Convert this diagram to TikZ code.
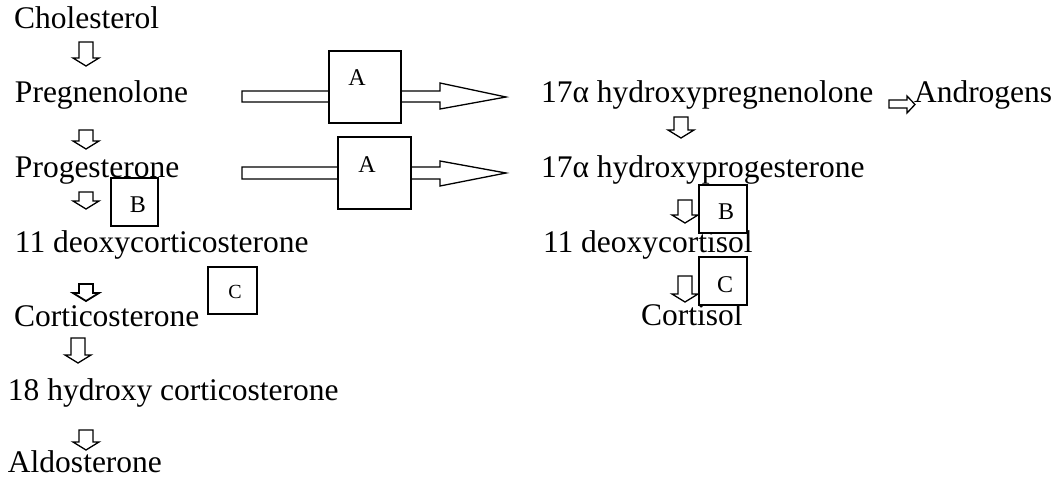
\documentclass[tikz,border=0pt]{standalone}
\usepackage{fontspec}
\setmainfont{Liberation Serif}
\begin{document}
\begin{tikzpicture}[x=1pt,y=-1pt,
  lbl/.style={anchor=base west,inner sep=0pt,outer sep=0pt,font=\fontsize{31.5}{36}\selectfont},
  blk/.style={draw=black,line width=1.3pt,fill=white,line join=miter},
  enzbox/.style={draw=black,line width=1.5pt,fill=white},
  enz/.style={inner sep=0pt,font=\fontsize{24}{28}\selectfont},
  enzs/.style={inner sep=0pt,font=\fontsize{20}{24}\selectfont}]
\useasboundingbox (0,0) rectangle (1061,479);
\newcommand{\DownBlk}[4][]{%
  \draw[blk,#1] ({#2-7},#3) -- ({#2+7},#3) -- ({#2+7},{#4-8}) -- ({#2+13},{#4-8}) -- (#2,#4) -- ({#2-13},{#4-8}) -- ({#2-7},{#4-8}) -- cycle;}
% left column texts
\node[lbl] (chol) at (14,28) {Cholesterol};
\node[lbl] (preg) at (15,102) {Pregnenolone};
\node[lbl] (prog) at (15,177) {Progesterone};
\node[lbl] (doc) at (15,252) {11 deoxycorticosterone};
\node[lbl] (cort) at (14,326) {Corticosterone};
\node[lbl] (ohc) at (8,400) {18 hydroxy corticosterone};
\node[lbl] (aldo) at (8,472) {Aldosterone};
% right column texts
\node[lbl] (ohpreg) at (541,102) {17α hydroxypregnenolone};
\node[lbl] (andro) at (914,102) {Androgens};
\node[lbl] (ohprog) at (541,177) {17α hydroxyprogesterone};
\node[lbl] (dcl) at (543,252) {11 deoxycortisol};
\node[lbl] (cortisol) at (641,325) {Cortisol};
% down block arrows
\DownBlk{86}{42}{66}
\DownBlk{86}{130}{149}
\DownBlk{86}{192}{209}
\DownBlk[line width=1.8pt]{86}{284}{301}
\DownBlk{78}{338}{363}
\DownBlk{86}{430}{450}
\DownBlk{681}{117}{138}
\DownBlk{685}{200}{223}
\DownBlk{685}{276}{302}
% small right arrow
\draw[blk] (889,100) -- (907,100) -- (907,96) -- (915,104.5) -- (907,113) -- (907,108) -- (889,108) -- cycle;
% big horizontal arrows
\draw[blk] (242,91) -- (440,91) -- (440,83) -- (506,97) -- (440,109) -- (440,102) -- (242,102) -- cycle;
\draw[blk] (242,167) -- (440,167) -- (440,161) -- (506,173) -- (440,186) -- (440,179) -- (242,179) -- cycle;
% enzyme boxes
\draw[enzbox] (329,51) rectangle (401,123);
\node[enz] (a1) at (357,78) {A};
\draw[enzbox] (338,137) rectangle (411,209);
\node[enz] (a2) at (367,165) {A};
\draw[enzbox] (111,178) rectangle (158,226);
\node[enz] (b1) at (138,205) {B};
\draw[enzbox] (208,267) rectangle (257,314);
\node[enzs] (c1) at (235,292) {C};
\draw[enzbox] (699,185) rectangle (747,233);
\node[enz] (b2) at (726,212) {B};
\draw[enzbox] (699,257) rectangle (747,305);
\node[enz] (c2) at (725,285) {C};
\end{tikzpicture}
\end{document}
